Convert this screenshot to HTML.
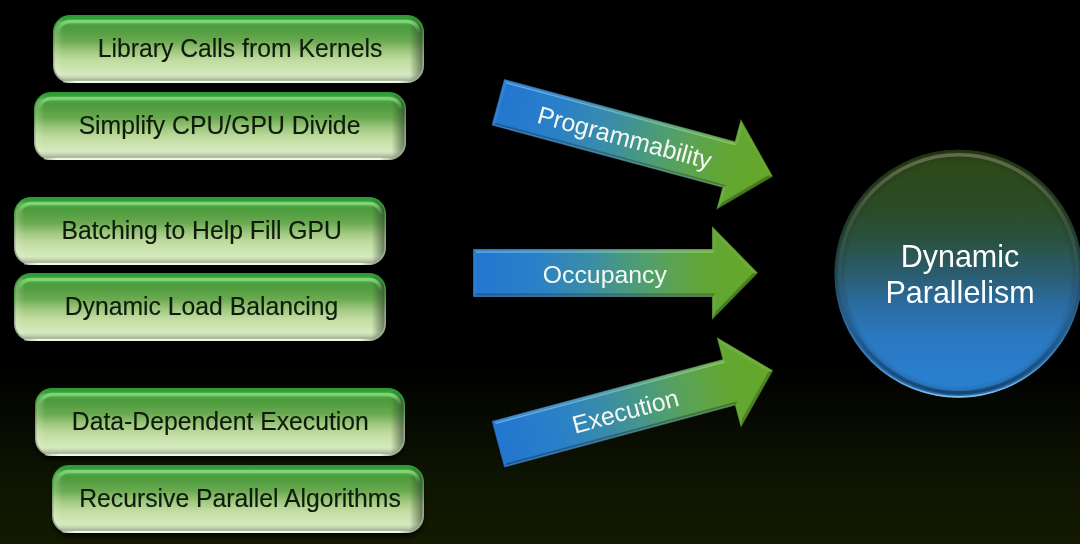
<!DOCTYPE html>
<html><head><meta charset="utf-8"><style>
html,body{margin:0;padding:0;background:#000;}
body{width:1080px;height:544px;overflow:hidden;}
svg{display:block;filter:blur(0.35px);}
text{font-family:"Liberation Sans",sans-serif;}
</style></head><body>
<svg width="1080" height="544" viewBox="0 0 1080 544">
<defs>
<linearGradient id="bg" x1="0" y1="0" x2="0" y2="1">
 <stop offset="0" stop-color="#000000"/>
 <stop offset="0.67" stop-color="#000000"/>
 <stop offset="0.85" stop-color="#0c1202"/>
 <stop offset="1" stop-color="#131a00"/>
</linearGradient>
<linearGradient id="rimg" x1="0" y1="0" x2="0" y2="1">
 <stop offset="0" stop-color="#2c9c32"/>
 <stop offset="0.3" stop-color="#4a9a40"/>
 <stop offset="0.6" stop-color="#98a890"/>
 <stop offset="1" stop-color="#a0ac98"/>
</linearGradient>
<linearGradient id="lipg" x1="0" y1="0" x2="1" y2="0">
 <stop offset="0" stop-color="#f0f8e8" stop-opacity="0.3"/>
 <stop offset="0.04" stop-color="#f0f8e8" stop-opacity="1"/>
 <stop offset="0.96" stop-color="#f0f8e8" stop-opacity="1"/>
 <stop offset="1" stop-color="#f0f8e8" stop-opacity="0"/>
</linearGradient>
<linearGradient id="boxg" x1="0" y1="0" x2="0" y2="1">
 <stop offset="0" stop-color="#2c9c34"/>
 <stop offset="0.05" stop-color="#3aa03a"/>
 <stop offset="0.1" stop-color="#52ac48"/>
 <stop offset="0.16" stop-color="#4a9c3c"/>
 <stop offset="0.26" stop-color="#58a044"/>
 <stop offset="0.38" stop-color="#6aaa50"/>
 <stop offset="0.54" stop-color="#a0c880"/>
 <stop offset="0.68" stop-color="#c0dca0"/>
 <stop offset="0.8" stop-color="#cce4b0"/>
 <stop offset="0.9" stop-color="#d6eac0"/>
 <stop offset="0.95" stop-color="#c0d0b0"/>
 <stop offset="1" stop-color="#98a888"/>
</linearGradient>
<linearGradient id="hig" x1="0" y1="0" x2="0" y2="1">
 <stop offset="0" stop-color="#88dc80" stop-opacity="0.85"/>
 <stop offset="0.1" stop-color="#88dc80" stop-opacity="0.45"/>
 <stop offset="0.22" stop-color="#88dc80" stop-opacity="0"/>
 <stop offset="1" stop-color="#88dc80" stop-opacity="0"/>
</linearGradient>
<linearGradient id="boxside" x1="0" y1="0" x2="1" y2="0">
 <stop offset="0" stop-color="#f0f8e0" stop-opacity="0.25"/>
 <stop offset="0.025" stop-color="#f0f8e0" stop-opacity="0"/>
 <stop offset="0.965" stop-color="#283828" stop-opacity="0"/>
 <stop offset="1" stop-color="#283828" stop-opacity="0.6"/>
</linearGradient>
<linearGradient id="arrg" x1="0" y1="0" x2="1" y2="0">
 <stop offset="0" stop-color="#2276d0"/>
 <stop offset="0.22" stop-color="#2a80c8"/>
 <stop offset="0.4" stop-color="#3a8ca8"/>
 <stop offset="0.55" stop-color="#4a9a7c"/>
 <stop offset="0.68" stop-color="#5aa258"/>
 <stop offset="0.82" stop-color="#62a634"/>
 <stop offset="1" stop-color="#66a828"/>
</linearGradient>
<linearGradient id="arrhl" gradientUnits="userSpaceOnUse" x1="-142.5" y1="0" x2="96.5" y2="0">
 <stop offset="0" stop-color="#90d0f8"/>
 <stop offset="0.5" stop-color="#90d8c0"/>
 <stop offset="1" stop-color="#a0e090"/>
</linearGradient>
<linearGradient id="circg" x1="0" y1="0" x2="0" y2="1">
 <stop offset="0" stop-color="#2c4814"/>
 <stop offset="0.25" stop-color="#2c4c28"/>
 <stop offset="0.37" stop-color="#2a5242"/>
 <stop offset="0.5" stop-color="#2a5c6e"/>
 <stop offset="0.62" stop-color="#2a6ca0"/>
 <stop offset="0.75" stop-color="#2a78c0"/>
 <stop offset="0.9" stop-color="#2a7ecc"/>
 <stop offset="1" stop-color="#2a80d0"/>
</linearGradient>
<radialGradient id="circv" cx="0.5" cy="0.5" r="0.5">
 <stop offset="0.9" stop-color="#000" stop-opacity="0"/>
 <stop offset="1" stop-color="#000" stop-opacity="0.25"/>
</radialGradient>
<linearGradient id="ringg" x1="0" y1="0" x2="0" y2="1">
 <stop offset="0" stop-color="#a09888" stop-opacity="0.5"/>
 <stop offset="0.3" stop-color="#a09888" stop-opacity="0.18"/>
 <stop offset="0.55" stop-color="#90b0c0" stop-opacity="0.06"/>
 <stop offset="0.8" stop-color="#000000" stop-opacity="0.15"/>
 <stop offset="1" stop-color="#000000" stop-opacity="0.35"/>
</linearGradient>
<linearGradient id="rimc" x1="0" y1="0" x2="0" y2="1">
 <stop offset="0" stop-color="#1c3014" stop-opacity="0.7"/>
 <stop offset="0.5" stop-color="#204050" stop-opacity="0.4"/>
 <stop offset="0.85" stop-color="#60a8e0" stop-opacity="0.5"/>
 <stop offset="1" stop-color="#90c8f0" stop-opacity="0.9"/>
</linearGradient>
<filter id="shb" x="-10%" y="-30%" width="120%" height="160%"><feGaussianBlur stdDeviation="2.5"/></filter>
</defs>
<rect x="0" y="0" width="1080" height="544" fill="url(#bg)"/>
<g>
<path d="M71,19 H406 A17,17 0 0 1 423,36 V70 A17,17 0 0 1 406,87 H71 A17,17 0 0 1 54,70 V36 A17,17 0 0 1 71,19 Z" fill="#000" fill-opacity="0.75" filter="url(#shb)"/>
<path d="M70,15 H407 A17,17 0 0 1 424,32 V66 A17,17 0 0 1 407,83 H70 A17,17 0 0 1 53,66 V32 A17,17 0 0 1 70,15 Z" fill="url(#rimg)"/>
<path d="M70.0,16.5 H407.0 A15.5,15.5 0 0 1 422.5,32.0 V65.5 A15.5,15.5 0 0 1 407.0,81.0 H70.0 A15.5,15.5 0 0 1 54.5,65.5 V32.0 A15.5,15.5 0 0 1 70.0,16.5 Z" fill="url(#boxg)"/>
<path d="M70.0,16.5 H407.0 A15.5,15.5 0 0 1 422.5,32.0 V65.5 A15.5,15.5 0 0 1 407.0,81.0 H70.0 A15.5,15.5 0 0 1 54.5,65.5 V32.0 A15.5,15.5 0 0 1 70.0,16.5 Z" fill="url(#boxside)"/>
<path d="M70,21.5 H407 A12,12 0 0 1 419,33.5 V59.5 A12,12 0 0 1 407,71.5 H70 A12,12 0 0 1 58,59.5 V33.5 A12,12 0 0 1 70,21.5 Z" fill="none" stroke="url(#hig)" stroke-width="3.5"/>
<rect x="63" y="80.8" width="349" height="2.2" fill="url(#lipg)"/>
<text transform="translate(240.0,57.4) scale(1,1.04)" x="0" y="0" font-size="24.75" fill="#0f1c0c" stroke="#0f1c0c" stroke-width="0.15" text-anchor="middle">Library Calls from Kernels</text>
</g>
<g>
<path d="M52,96 H388 A17,17 0 0 1 405,113 V147 A17,17 0 0 1 388,164 H52 A17,17 0 0 1 35,147 V113 A17,17 0 0 1 52,96 Z" fill="#000" fill-opacity="0.75" filter="url(#shb)"/>
<path d="M51,92 H389 A17,17 0 0 1 406,109 V143 A17,17 0 0 1 389,160 H51 A17,17 0 0 1 34,143 V109 A17,17 0 0 1 51,92 Z" fill="url(#rimg)"/>
<path d="M51.0,93.5 H389.0 A15.5,15.5 0 0 1 404.5,109.0 V142.5 A15.5,15.5 0 0 1 389.0,158.0 H51.0 A15.5,15.5 0 0 1 35.5,142.5 V109.0 A15.5,15.5 0 0 1 51.0,93.5 Z" fill="url(#boxg)"/>
<path d="M51.0,93.5 H389.0 A15.5,15.5 0 0 1 404.5,109.0 V142.5 A15.5,15.5 0 0 1 389.0,158.0 H51.0 A15.5,15.5 0 0 1 35.5,142.5 V109.0 A15.5,15.5 0 0 1 51.0,93.5 Z" fill="url(#boxside)"/>
<path d="M51,98.5 H389 A12,12 0 0 1 401,110.5 V136.5 A12,12 0 0 1 389,148.5 H51 A12,12 0 0 1 39,136.5 V110.5 A12,12 0 0 1 51,98.5 Z" fill="none" stroke="url(#hig)" stroke-width="3.5"/>
<rect x="44" y="157.8" width="350" height="2.2" fill="url(#lipg)"/>
<text transform="translate(219.5,134.4) scale(1,1.04)" x="0" y="0" font-size="24.75" fill="#0f1c0c" stroke="#0f1c0c" stroke-width="0.15" text-anchor="middle">Simplify CPU/GPU Divide</text>
</g>
<g>
<path d="M32,201 H368 A17,17 0 0 1 385,218 V252 A17,17 0 0 1 368,269 H32 A17,17 0 0 1 15,252 V218 A17,17 0 0 1 32,201 Z" fill="#000" fill-opacity="0.75" filter="url(#shb)"/>
<path d="M31,197 H369 A17,17 0 0 1 386,214 V248 A17,17 0 0 1 369,265 H31 A17,17 0 0 1 14,248 V214 A17,17 0 0 1 31,197 Z" fill="url(#rimg)"/>
<path d="M31.0,198.5 H369.0 A15.5,15.5 0 0 1 384.5,214.0 V247.5 A15.5,15.5 0 0 1 369.0,263.0 H31.0 A15.5,15.5 0 0 1 15.5,247.5 V214.0 A15.5,15.5 0 0 1 31.0,198.5 Z" fill="url(#boxg)"/>
<path d="M31.0,198.5 H369.0 A15.5,15.5 0 0 1 384.5,214.0 V247.5 A15.5,15.5 0 0 1 369.0,263.0 H31.0 A15.5,15.5 0 0 1 15.5,247.5 V214.0 A15.5,15.5 0 0 1 31.0,198.5 Z" fill="url(#boxside)"/>
<path d="M31,203.5 H369 A12,12 0 0 1 381,215.5 V241.5 A12,12 0 0 1 369,253.5 H31 A12,12 0 0 1 19,241.5 V215.5 A12,12 0 0 1 31,203.5 Z" fill="none" stroke="url(#hig)" stroke-width="3.5"/>
<rect x="24" y="262.8" width="350" height="2.2" fill="url(#lipg)"/>
<text transform="translate(201.7,239.4) scale(1,1.04)" x="0" y="0" font-size="24.75" fill="#0f1c0c" stroke="#0f1c0c" stroke-width="0.15" text-anchor="middle">Batching to Help Fill GPU</text>
</g>
<g>
<path d="M32,277 H368 A17,17 0 0 1 385,294 V328 A17,17 0 0 1 368,345 H32 A17,17 0 0 1 15,328 V294 A17,17 0 0 1 32,277 Z" fill="#000" fill-opacity="0.75" filter="url(#shb)"/>
<path d="M31,273 H369 A17,17 0 0 1 386,290 V324 A17,17 0 0 1 369,341 H31 A17,17 0 0 1 14,324 V290 A17,17 0 0 1 31,273 Z" fill="url(#rimg)"/>
<path d="M31.0,274.5 H369.0 A15.5,15.5 0 0 1 384.5,290.0 V323.5 A15.5,15.5 0 0 1 369.0,339.0 H31.0 A15.5,15.5 0 0 1 15.5,323.5 V290.0 A15.5,15.5 0 0 1 31.0,274.5 Z" fill="url(#boxg)"/>
<path d="M31.0,274.5 H369.0 A15.5,15.5 0 0 1 384.5,290.0 V323.5 A15.5,15.5 0 0 1 369.0,339.0 H31.0 A15.5,15.5 0 0 1 15.5,323.5 V290.0 A15.5,15.5 0 0 1 31.0,274.5 Z" fill="url(#boxside)"/>
<path d="M31,279.5 H369 A12,12 0 0 1 381,291.5 V317.5 A12,12 0 0 1 369,329.5 H31 A12,12 0 0 1 19,317.5 V291.5 A12,12 0 0 1 31,279.5 Z" fill="none" stroke="url(#hig)" stroke-width="3.5"/>
<rect x="24" y="338.8" width="350" height="2.2" fill="url(#lipg)"/>
<text transform="translate(201.5,315.4) scale(1,1.04)" x="0" y="0" font-size="24.75" fill="#0f1c0c" stroke="#0f1c0c" stroke-width="0.15" text-anchor="middle">Dynamic Load Balancing</text>
</g>
<g>
<path d="M53,392 H387 A17,17 0 0 1 404,409 V443 A17,17 0 0 1 387,460 H53 A17,17 0 0 1 36,443 V409 A17,17 0 0 1 53,392 Z" fill="#000" fill-opacity="0.75" filter="url(#shb)"/>
<path d="M52,388 H388 A17,17 0 0 1 405,405 V439 A17,17 0 0 1 388,456 H52 A17,17 0 0 1 35,439 V405 A17,17 0 0 1 52,388 Z" fill="url(#rimg)"/>
<path d="M52.0,389.5 H388.0 A15.5,15.5 0 0 1 403.5,405.0 V438.5 A15.5,15.5 0 0 1 388.0,454.0 H52.0 A15.5,15.5 0 0 1 36.5,438.5 V405.0 A15.5,15.5 0 0 1 52.0,389.5 Z" fill="url(#boxg)"/>
<path d="M52.0,389.5 H388.0 A15.5,15.5 0 0 1 403.5,405.0 V438.5 A15.5,15.5 0 0 1 388.0,454.0 H52.0 A15.5,15.5 0 0 1 36.5,438.5 V405.0 A15.5,15.5 0 0 1 52.0,389.5 Z" fill="url(#boxside)"/>
<path d="M52,394.5 H388 A12,12 0 0 1 400,406.5 V432.5 A12,12 0 0 1 388,444.5 H52 A12,12 0 0 1 40,432.5 V406.5 A12,12 0 0 1 52,394.5 Z" fill="none" stroke="url(#hig)" stroke-width="3.5"/>
<rect x="45" y="453.8" width="348" height="2.2" fill="url(#lipg)"/>
<text transform="translate(220.3,430.4) scale(1,1.04)" x="0" y="0" font-size="24.75" fill="#0f1c0c" stroke="#0f1c0c" stroke-width="0.15" text-anchor="middle">Data-Dependent Execution</text>
</g>
<g>
<path d="M70,469 H406 A17,17 0 0 1 423,486 V520 A17,17 0 0 1 406,537 H70 A17,17 0 0 1 53,520 V486 A17,17 0 0 1 70,469 Z" fill="#000" fill-opacity="0.75" filter="url(#shb)"/>
<path d="M69,465 H407 A17,17 0 0 1 424,482 V516 A17,17 0 0 1 407,533 H69 A17,17 0 0 1 52,516 V482 A17,17 0 0 1 69,465 Z" fill="url(#rimg)"/>
<path d="M69.0,466.5 H407.0 A15.5,15.5 0 0 1 422.5,482.0 V515.5 A15.5,15.5 0 0 1 407.0,531.0 H69.0 A15.5,15.5 0 0 1 53.5,515.5 V482.0 A15.5,15.5 0 0 1 69.0,466.5 Z" fill="url(#boxg)"/>
<path d="M69.0,466.5 H407.0 A15.5,15.5 0 0 1 422.5,482.0 V515.5 A15.5,15.5 0 0 1 407.0,531.0 H69.0 A15.5,15.5 0 0 1 53.5,515.5 V482.0 A15.5,15.5 0 0 1 69.0,466.5 Z" fill="url(#boxside)"/>
<path d="M69,471.5 H407 A12,12 0 0 1 419,483.5 V509.5 A12,12 0 0 1 407,521.5 H69 A12,12 0 0 1 57,509.5 V483.5 A12,12 0 0 1 69,471.5 Z" fill="none" stroke="url(#hig)" stroke-width="3.5"/>
<rect x="62" y="530.8" width="350" height="2.2" fill="url(#lipg)"/>
<text transform="translate(240.0,507.4) scale(1,1.04)" x="0" y="0" font-size="24.75" fill="#0f1c0c" stroke="#0f1c0c" stroke-width="0.15" text-anchor="middle">Recursive Parallel Algorithms</text>
</g>
<g transform="translate(635.4,139.3) rotate(15.1)">
<polygon points="-142.50,-24.00 96.50,-24.00 96.50,-47.00 142.50,0.00 96.50,47.00 96.50,24.00 -142.50,24.00" fill="url(#arrg)"/>
<polygon points="-142.50,-24.00 96.50,-24.00 100.00,-20.50 -139.00,-20.50" fill="#ffffff" fill-opacity="0.107"/>
<polygon points="96.50,-24.00 96.50,-47.00 100.00,-38.42 100.00,-20.50" fill="#ffffff" fill-opacity="0.073"/>
<polygon points="96.50,-47.00 142.50,0.00 137.60,0.00 100.00,-38.42" fill="#ffffff" fill-opacity="0.023"/>
<polygon points="142.50,0.00 96.50,47.00 100.00,38.42 137.60,0.00" fill="#000000" fill-opacity="0.275"/>
<polygon points="96.50,47.00 96.50,24.00 100.00,20.50 100.00,38.42" fill="#ffffff" fill-opacity="0.073"/>
<polygon points="96.50,24.00 -142.50,24.00 -139.00,20.50 100.00,20.50" fill="#000000" fill-opacity="0.231"/>
<polygon points="-142.50,24.00 -142.50,-24.00 -139.00,-20.50 -139.00,20.50" fill="#ffffff" fill-opacity="0.073"/>
<line x1="-141.5" y1="23.2" x2="96.5" y2="23.2" stroke="#8cc8f0" stroke-opacity="0.35" stroke-width="1.6"/>
<polygon points="-142.50,-24.00 96.50,-24.00 96.50,-47.00 142.50,0.00 96.50,47.00 96.50,24.00 -142.50,24.00" fill="none" stroke="#000" stroke-opacity="0.3" stroke-width="1.2"/>
<line x1="-139.5" y1="-20.8" x2="97.5" y2="-20.8" stroke="url(#arrhl)" stroke-opacity="0.5" stroke-width="1.3"/>
<text x="-10.699999999999989" y="9.7" font-size="24.8" fill="#f4f8f4" text-anchor="middle">Programmability</text>
</g>
<g transform="translate(615.5,273) rotate(0)">
<polygon points="-142.50,-24.00 96.50,-24.00 96.50,-47.00 142.50,0.00 96.50,47.00 96.50,24.00 -142.50,24.00" fill="url(#arrg)"/>
<polygon points="-142.50,-24.00 96.50,-24.00 100.00,-20.50 -139.00,-20.50" fill="#ffffff" fill-opacity="0.123"/>
<polygon points="96.50,-24.00 96.50,-47.00 100.00,-38.42 100.00,-20.50" fill="#ffffff" fill-opacity="0.043"/>
<polygon points="96.50,-47.00 142.50,0.00 137.60,0.00 100.00,-38.42" fill="#ffffff" fill-opacity="0.055"/>
<polygon points="142.50,0.00 96.50,47.00 100.00,38.42 137.60,0.00" fill="#000000" fill-opacity="0.251"/>
<polygon points="96.50,47.00 96.50,24.00 100.00,20.50 100.00,38.42" fill="#ffffff" fill-opacity="0.043"/>
<polygon points="96.50,24.00 -142.50,24.00 -139.00,20.50 100.00,20.50" fill="#000000" fill-opacity="0.264"/>
<polygon points="-142.50,24.00 -142.50,-24.00 -139.00,-20.50 -139.00,20.50" fill="#ffffff" fill-opacity="0.043"/>
<line x1="-141.5" y1="23.2" x2="96.5" y2="23.2" stroke="#8cc8f0" stroke-opacity="0.35" stroke-width="1.6"/>
<polygon points="-142.50,-24.00 96.50,-24.00 96.50,-47.00 142.50,0.00 96.50,47.00 96.50,24.00 -142.50,24.00" fill="none" stroke="#000" stroke-opacity="0.3" stroke-width="1.2"/>
<line x1="-139.5" y1="-20.8" x2="97.5" y2="-20.8" stroke="url(#arrhl)" stroke-opacity="0.5" stroke-width="1.3"/>
<text x="-10.699999999999989" y="9.7" font-size="24.8" fill="#f4f8f4" text-anchor="middle">Occupancy</text>
</g>
<g transform="translate(635.5,407.4) rotate(-15.0)">
<polygon points="-142.50,-24.00 96.50,-24.00 96.50,-47.00 142.50,0.00 96.50,47.00 96.50,24.00 -142.50,24.00" fill="url(#arrg)"/>
<polygon points="-142.50,-24.00 96.50,-24.00 100.00,-20.50 -139.00,-20.50" fill="#ffffff" fill-opacity="0.130"/>
<polygon points="96.50,-24.00 96.50,-47.00 100.00,-38.42 100.00,-20.50" fill="#ffffff" fill-opacity="0.010"/>
<polygon points="96.50,-47.00 142.50,0.00 137.60,0.00 100.00,-38.42" fill="#ffffff" fill-opacity="0.084"/>
<polygon points="142.50,0.00 96.50,47.00 100.00,38.42 137.60,0.00" fill="#000000" fill-opacity="0.210"/>
<polygon points="96.50,47.00 96.50,24.00 100.00,20.50 100.00,38.42" fill="#ffffff" fill-opacity="0.010"/>
<polygon points="96.50,24.00 -142.50,24.00 -139.00,20.50 100.00,20.50" fill="#000000" fill-opacity="0.279"/>
<polygon points="-142.50,24.00 -142.50,-24.00 -139.00,-20.50 -139.00,20.50" fill="#ffffff" fill-opacity="0.010"/>
<line x1="-141.5" y1="23.2" x2="96.5" y2="23.2" stroke="#8cc8f0" stroke-opacity="0.35" stroke-width="1.6"/>
<polygon points="-142.50,-24.00 96.50,-24.00 96.50,-47.00 142.50,0.00 96.50,47.00 96.50,24.00 -142.50,24.00" fill="none" stroke="#000" stroke-opacity="0.3" stroke-width="1.2"/>
<line x1="-139.5" y1="-20.8" x2="97.5" y2="-20.8" stroke="url(#arrhl)" stroke-opacity="0.5" stroke-width="1.3"/>
<text x="-10.699999999999989" y="9.7" font-size="24.8" fill="#f4f8f4" text-anchor="middle">Execution</text>
</g>
<circle cx="958.5" cy="273.7" r="124" fill="url(#circg)"/>
<circle cx="958.5" cy="273.7" r="124" fill="url(#circv)"/>
<circle cx="958.5" cy="273.7" r="119" fill="none" stroke="url(#ringg)" stroke-width="3.5"/>
<circle cx="958.5" cy="273.7" r="123.2" fill="none" stroke="url(#rimc)" stroke-width="1.6"/>
<text x="960" y="267" font-size="30.5" fill="#ffffff" text-anchor="middle">Dynamic</text>
<text x="960" y="303" font-size="30.5" fill="#ffffff" text-anchor="middle">Parallelism</text>
</svg>
</body></html>
